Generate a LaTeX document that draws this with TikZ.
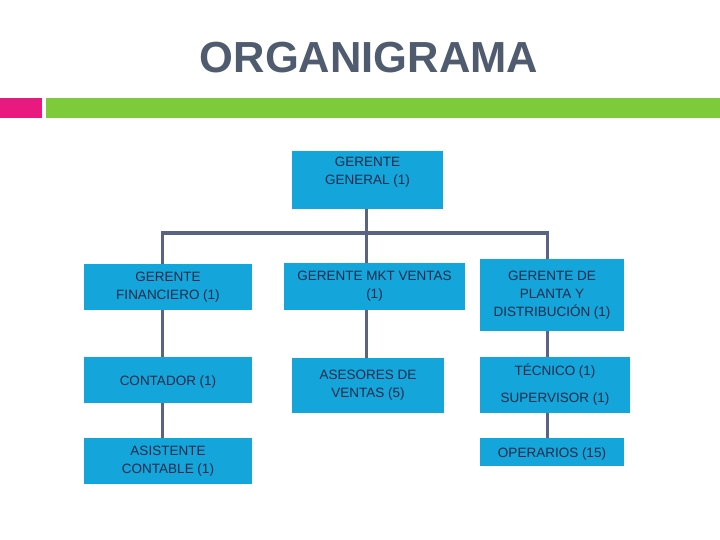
\documentclass[tikz,border=0pt]{standalone}
\usepackage{fontspec}
\setmainfont{Liberation Sans}
\definecolor{boxblue}{HTML}{14A5DA}
\definecolor{txtnavy}{HTML}{1E2B4A}
\definecolor{linegray}{HTML}{5A6482}
\definecolor{titlegray}{HTML}{4F5B6E}
\definecolor{barpink}{HTML}{E8197F}
\definecolor{bargreen}{HTML}{7DCB3B}
\tikzset{
  orgbox/.style={fill=boxblue, draw=none, inner sep=0pt, text=txtnavy,
    font=\fontsize{13.5}{18}\selectfont, align=center,
    execute at begin node={\rule{0pt}{14pt}}},
  conn/.style={draw=linegray, line width=3pt}
}
\begin{document}
\begin{tikzpicture}[x=1pt,y=-1pt]
\useasboundingbox (0,0) rectangle (720,540);
\fill[white] (0,0) rectangle (720,540);
% title
\node[anchor=base, text=titlegray, font=\fontsize{43.5}{50}\selectfont\bfseries] (title) at (369,72.5) {ORGANIGRAMA};
% bars
\fill[barpink] (0,98) rectangle (42,118);
\fill[bargreen] (46,98) rectangle (720,118);
% boxes
\node[orgbox, minimum width=151pt, minimum height=58pt] (gg) at (367.5,180) {};
\node[orgbox, fill=none] (ggt) at (367.5,172) {GERENTE\\GENERAL (1)};
\node[orgbox, minimum width=168pt, minimum height=46pt] (gf) at (168,287) {GERENTE\\FINANCIERO (1)};
\node[orgbox, minimum width=181pt, minimum height=47pt] (gm) at (374.5,286.5) {GERENTE MKT VENTAS\\(1)};
\node[orgbox, minimum width=144pt, minimum height=72pt] (gp) at (552,295) {GERENTE DE\\PLANTA Y\\DISTRIBUCIÓN (1)};
\node[orgbox, minimum width=168pt, minimum height=46pt] (ct) at (168,380) {CONTADOR (1)};
\node[orgbox, minimum width=168pt, minimum height=46pt] (ac) at (168,461) {ASISTENTE\\CONTABLE (1)};
\node[orgbox, minimum width=152pt, minimum height=55pt] (as) at (368,385.5) {ASESORES DE\\VENTAS (5)};
\node[orgbox, minimum width=150pt, minimum height=56pt] (ts) at (555,385) {TÉCNICO (1)\\[9pt]SUPERVISOR (1)};
\node[orgbox, minimum width=144pt, minimum height=28pt] (op) at (552,452) {OPERARIOS (15)};
% connectors
\coordinate (busL) at (162,233);
\coordinate (busR) at (547,233);
\coordinate (busM) at (366,233);
\draw[conn] (busL |- gf.north) -- (busL) -- (busR) -- (busR |- gp.north);
\draw[conn] (busM |- gg.south) -- (busM |- gm.north);
\draw[conn] (busL |- gf.south) -- (busL |- ct.north);
\draw[conn] (busL |- ct.south) -- (busL |- ac.north);
\draw[conn] (busM |- gm.south) -- (busM |- as.north);
\draw[conn] (busR |- gp.south) -- (busR |- ts.north);
\draw[conn] (busR |- ts.south) -- (busR |- op.north);
\end{tikzpicture}
\end{document}
